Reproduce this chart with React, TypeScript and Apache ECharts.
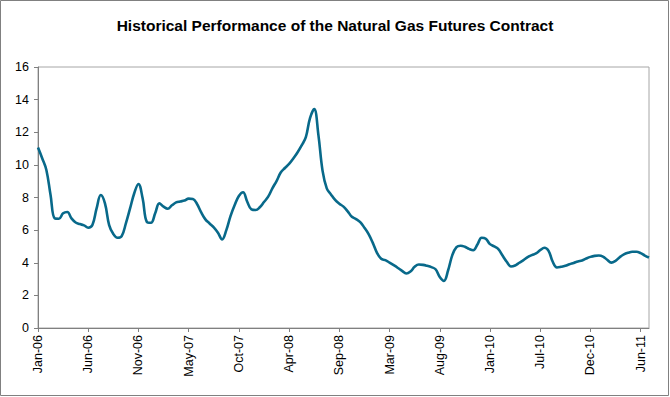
import React, { useEffect, useRef } from "react";
import * as echarts from "echarts";

const chartTitle = "Historical Performance of the Natural Gas Futures Contract";

// Labels shown on the category axis (one every 12 observations)
const tickLabels = [
  "Jan-06", "Jun-06", "Nov-06", "May-07", "Oct-07", "Apr-08", "Sep-08",
  "Mar-09", "Aug-09", "Jan-10", "Jul-10", "Dec-10", "Jun-11",
];
const labelEvery = 12;

// Futures prices ($/MMBtu) at regular steps
const prices = [
  11.06, 10.41, 9.69, 8.15, 6.72, 6.7, 7.03, 7.11, 6.72, 6.47, 6.37, 6.29,
  6.15, 6.31, 7.33, 8.15, 7.64, 6.31, 5.76, 5.53, 5.63, 6.41, 7.33, 8.26,
  8.83, 7.95, 6.51, 6.45, 7.03, 7.64, 7.44, 7.31, 7.52, 7.7, 7.76, 7.81,
  7.93, 7.91, 7.6, 7.09, 6.66, 6.41, 6.17, 5.84, 5.43, 6.0, 6.86, 7.54,
  8.09, 8.32, 7.74, 7.27, 7.23, 7.4, 7.72, 8.05, 8.56, 9.01, 9.53, 9.81,
  10.06, 10.39, 10.76, 11.19, 11.7, 12.87, 13.42, 11.84, 9.63, 8.56, 8.19, 7.85,
  7.62, 7.44, 7.15, 6.82, 6.68, 6.49, 6.15, 5.76, 5.22, 4.61, 4.24, 4.16,
  4.01, 3.85, 3.68, 3.5, 3.34, 3.46, 3.75, 3.89, 3.87, 3.81, 3.73, 3.6,
  3.13, 2.89, 3.54, 4.47, 4.96, 5.04, 4.98, 4.85, 4.77, 5.12, 5.53, 5.47,
  5.14, 5.0, 4.83, 4.44, 4.06, 3.77, 3.83, 4.0, 4.16, 4.34, 4.47, 4.57,
  4.77, 4.92, 4.73, 4.06, 3.71, 3.75, 3.81, 3.91, 3.99, 4.08, 4.14, 4.26,
  4.36, 4.42, 4.44, 4.38, 4.18, 4.01, 4.12, 4.34, 4.51, 4.61, 4.67, 4.67,
  4.59, 4.44, 4.32,
];

const yMin = 0;
const yMax = 16;
const yStep = 2;

const categories = prices.map((_, i) =>
  i % labelEvery === 0 && tickLabels[i / labelEvery] ? tickLabels[i / labelEvery] : `p${i}`
);

const FONT = "'Liberation Sans', Arial, Helvetica, sans-serif";

export default function App() {
  const ref = useRef<HTMLDivElement>(null);

  useEffect(() => {
    if (!ref.current) return;
    const chart = echarts.init(ref.current, undefined, { renderer: "svg" });
    chart.setOption({
      animation: false,
      backgroundColor: "#ffffff",
      title: {
        text: chartTitle,
        left: "center",
        top: 12,
        textStyle: { fontFamily: FONT, fontSize: 15.5, fontWeight: "bold", color: "#000" },
      },
      graphic: [
        {
          type: "rect",
          shape: { x: 0.5, y: 0.5, width: 668, height: 395 },
          style: { fill: "none", stroke: "#808080", lineWidth: 1 },
          silent: true,
        },
      ],
      grid: {
        left: 38,
        top: 67,
        right: 21,
        bottom: 69,
        show: true,
        borderColor: "#a6a6a6",
        borderWidth: 1,
        containLabel: false,
      },
      xAxis: {
        type: "category",
        data: categories,
        boundaryGap: false,
        axisLine: { show: true, lineStyle: { color: "#808080", width: 1 } },
        axisTick: { show: true, interval: labelEvery - 1, length: 4, lineStyle: { color: "#808080" } },
        axisLabel: {
          interval: labelEvery - 1,
          rotate: 90,
          margin: 7,
          color: "#000",
          fontFamily: FONT,
          fontSize: 12.5,
          formatter: (v: string) => (tickLabels.includes(v) ? v : ""),
        },
        splitLine: { show: false },
      },
      yAxis: {
        type: "value",
        min: yMin,
        max: yMax,
        interval: yStep,
        axisLine: { show: true, lineStyle: { color: "#808080", width: 1 } },
        axisTick: { show: true, length: 4, lineStyle: { color: "#808080" } },
        axisLabel: { color: "#000", fontFamily: FONT, fontSize: 12.5, margin: 9 },
        splitLine: { show: false },
      },
      series: [
        {
          type: "line",
          data: prices,
          smooth: 0.4,
          showSymbol: false,
          symbol: "none",
          lineStyle: { color: "#08698a", width: 2.6 },
        },
      ],
    });
    return () => chart.dispose();
  }, []);

  return (
    <div
      ref={ref}
      style={{ position: "absolute", left: 0, top: 0, width: 670, height: 397 }}
    />
  );
}
